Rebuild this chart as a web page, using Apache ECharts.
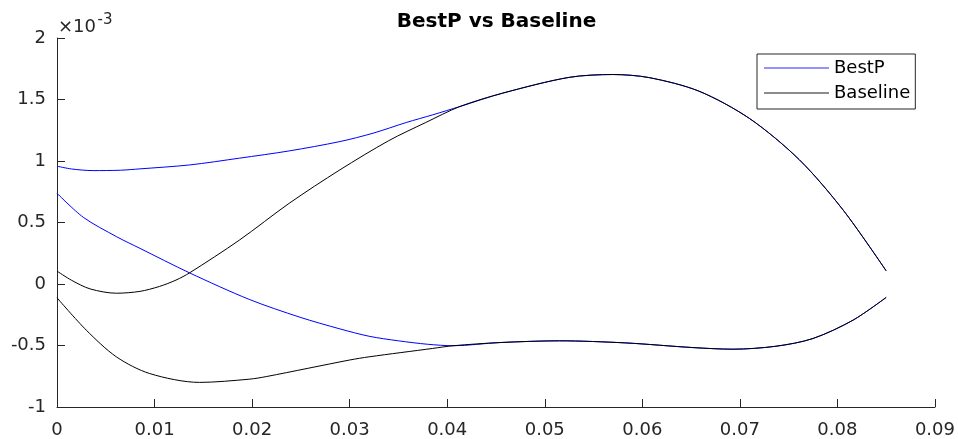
<!DOCTYPE html>
<html><head><meta charset="utf-8">
<script src="https://cdn.jsdelivr.net/npm/echarts@6/dist/echarts.min.js"></script>
<style>html,body{margin:0;padding:0;background:#fff}#c{width:958px;height:439px}</style>
</head><body><div id="c"></div>
<script>
// y values are in units of 1e-3 (axis shows ×10^-3)
const titleText = 'BestP vs Baseline';
const seriesNames = ['BestP', 'Baseline'];
const xTickLabels = ['0','0.01','0.02','0.03','0.04','0.05','0.06','0.07','0.08','0.09'];
const yTickLabels = ['-1','-0.5','0','0.5','1','1.5','2'];

const bestUpperX = [0, 0.0015, 0.0037, 0.0065, 0.0085, 0.0136, 0.0187, 0.0238, 0.0290, 0.0324, 0.0358, 0.0385, 0.0413, 0.0457, 0.0525, 0.0570, 0.0607, 0.0658, 0.0710, 0.0761, 0.0806, 0.0850];
const bestUpperY = [0.958, 0.935, 0.922, 0.925, 0.936, 0.968, 1.023, 1.082, 1.158, 1.226, 1.313, 1.375, 1.443, 1.552, 1.680, 1.703, 1.678, 1.568, 1.345, 1.010, 0.600, 0.107];
const bestLowerX = [0, 0.0027, 0.0061, 0.0085, 0.0136, 0.0197, 0.0249, 0.0290, 0.0320, 0.0350, 0.0380, 0.0406, 0.0454, 0.0515, 0.0583, 0.0652, 0.0693, 0.0737, 0.0775, 0.0816, 0.0850];
const bestLowerY = [0.738, 0.542, 0.385, 0.290, 0.090, -0.125, -0.270, -0.365, -0.425, -0.462, -0.490, -0.502, -0.476, -0.462, -0.479, -0.517, -0.530, -0.506, -0.443, -0.294, -0.109];

const baseUpperX = [0, 0.0015, 0.0034, 0.0061, 0.0085, 0.0105, 0.0122, 0.0136, 0.0187, 0.0238, 0.0290, 0.0340, 0.0378, 0.0413, 0.0457, 0.0525, 0.0570, 0.0607, 0.0658, 0.0710, 0.0761, 0.0806, 0.0850];
const baseUpperY = [0.105, 0.030, -0.040, -0.075, -0.060, -0.020, 0.032, 0.091, 0.357, 0.656, 0.928, 1.165, 1.313, 1.443, 1.552, 1.680, 1.703, 1.678, 1.568, 1.345, 1.010, 0.600, 0.107];
const baseLowerX = [0, 0.0030, 0.0061, 0.0095, 0.0146, 0.0197, 0.0215, 0.0300, 0.0320, 0.0385, 0.0406, 0.0454, 0.0515, 0.0583, 0.0652, 0.0693, 0.0737, 0.0775, 0.0816, 0.0850];
const baseLowerY = [-0.112, -0.375, -0.593, -0.728, -0.800, -0.774, -0.752, -0.618, -0.592, -0.524, -0.502, -0.476, -0.462, -0.479, -0.517, -0.530, -0.506, -0.443, -0.294, -0.109];

const zip = (xs, ys) => xs.map((x, i) => [x, ys[i]]);
const FONT = 'DejaVu Sans';
const chart = echarts.init(document.getElementById('c'), null, {renderer: 'canvas'});

function lineSeries(name, xs, ys, color) {
  return {
    name: name, type: 'line', data: zip(xs, ys), symbol: 'none', showSymbol: false,
    smooth: 0.3,
    lineStyle: {color: color, width: 1}, itemStyle: {color: color},
    animation: false, silent: true
  };
}

chart.setOption({
  backgroundColor: '#fff',
  animation: false,
  grid: {left: 57, right: 22, top: 38, bottom: 32, containLabel: false},
  xAxis: {
    type: 'value', min: 0, max: 0.09, interval: 0.01,
    axisLine: {show: true, onZero: false, lineStyle: {color: '#262626', width: 1}},
    axisTick: {show: true, inside: true, length: 8, lineStyle: {color: '#262626'}},
    splitLine: {show: false},
    axisLabel: {
      margin: 14, color: '#262626', fontSize: 18, fontFamily: FONT,
      formatter: v => xTickLabels[Math.round(v / 0.01)]
    }
  },
  yAxis: {
    type: 'value', min: -1, max: 2, interval: 0.5,
    axisLine: {show: true, onZero: false, lineStyle: {color: '#262626', width: 1}},
    axisTick: {show: true, inside: true, length: 8, lineStyle: {color: '#262626'}},
    splitLine: {show: false},
    axisLabel: {
      margin: 11, color: '#262626', fontSize: 18, fontFamily: FONT,
      formatter: v => yTickLabels[Math.round((v + 1) / 0.5)]
    }
  },
  legend: {
    orient: 'vertical', left: 757, top: 54,
    padding: [5, 5, 7, 7], itemWidth: 65, itemHeight: 1.5, itemGap: 7,
    borderColor: '#262626', borderWidth: 1, backgroundColor: '#fff',
    textStyle: {fontSize: 18, fontFamily: FONT, color: '#000'},
    data: [
      {name: seriesNames[0], icon: 'rect', itemStyle: {color: '#7070ff', borderWidth: 0, opacity: 1}},
      {name: seriesNames[1], icon: 'rect', itemStyle: {color: '#666666', borderWidth: 0, opacity: 1}}
    ],
    selectedMode: false
  },
  graphic: [
    {type: 'text', x: 496.5, y: 22, style: {text: titleText, font: 'bold 20px ' + FONT, fill: '#000', textAlign: 'center', textVerticalAlign: 'middle'}},
    {type: 'text', x: 58, y: 27, style: {text: '\u00d710', font: '18px ' + FONT, fill: '#262626', textAlign: 'left', textVerticalAlign: 'middle'}},
    {type: 'text', x: 97.5, y: 20, style: {text: '-3', font: '15px ' + FONT, fill: '#262626', textAlign: 'left', textVerticalAlign: 'middle'}}
  ],
  series: [
    lineSeries(seriesNames[0], bestUpperX, bestUpperY, '#0000ff'),
    lineSeries(seriesNames[0], bestLowerX, bestLowerY, '#0000ff'),
    lineSeries(seriesNames[1], baseUpperX, baseUpperY, '#000000'),
    lineSeries(seriesNames[1], baseLowerX, baseLowerY, '#000000')
  ]
});
</script></body></html>
